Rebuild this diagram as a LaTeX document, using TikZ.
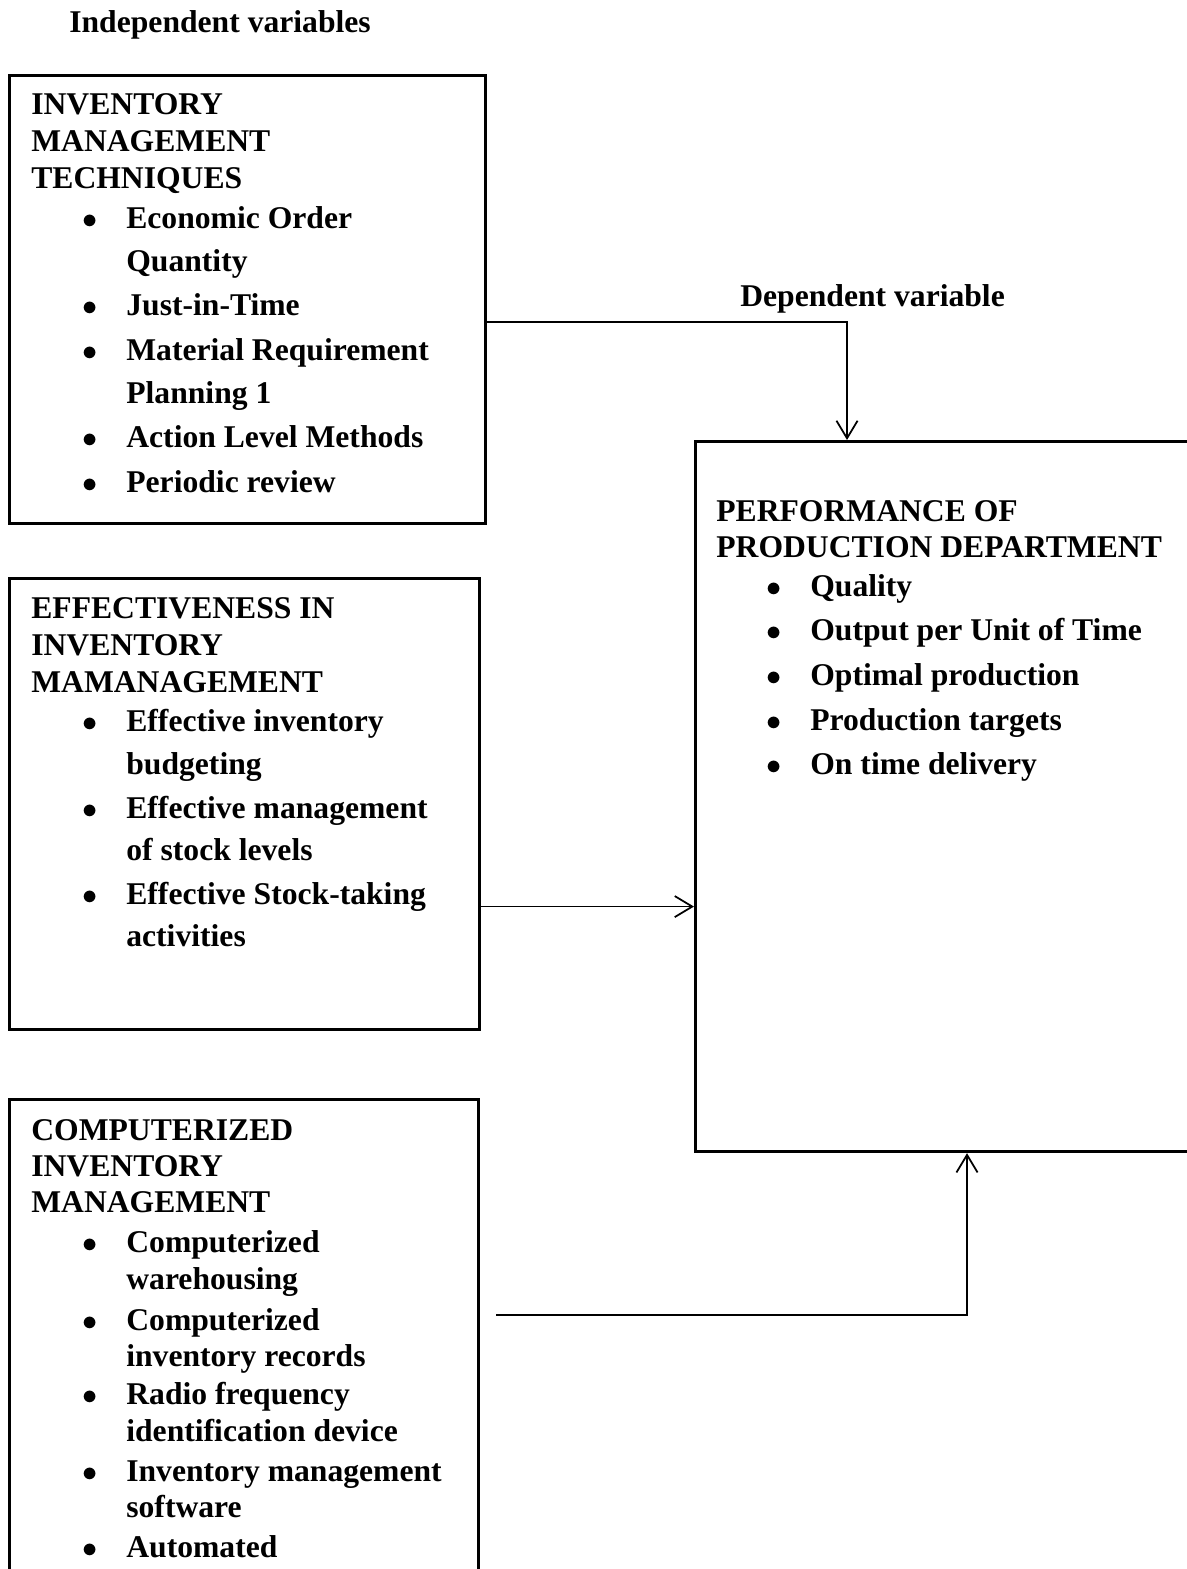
\documentclass[tikz,border=0pt]{standalone}
\usepackage{fontspec}
\setmainfont{Liberation Serif}
\usepackage{tikz}
\usetikzlibrary{arrows.meta}

\tikzset{
    box/.style={draw, line width=1.8pt, rectangle, anchor=north west, inner sep=0pt},
    txt/.style={anchor=base west, inner sep=0pt, yshift=-0.04cm, font=\fontsize{18}{21}\selectfont\bfseries},
    arr/.style={line width=1pt, -{Straight Barb[length=10pt,width=12pt,line width=1pt]}}
}
\newcommand{\bul}{\makebox[0.88cm][l]{$\bullet$}}

\begin{document}
\begin{tikzpicture}
    \useasboundingbox (0,0) rectangle (23.72,-31.38);

    % boxes
    \node[box, minimum width=9.52cm, minimum height=8.96cm] (imt) at (0.16,-1.48) {};
    \node[box, minimum width=9.40cm, minimum height=9.02cm] (eim) at (0.16,-11.54) {};
    \node[box, minimum width=9.38cm, minimum height=10.5cm] (cim) at (0.16,-21.96) {};
    \node[box, minimum width=10cm, minimum height=14.2cm] (perf) at (13.88,-8.8) {};

    % titles
    \node[txt] (indep) at (1.38,-0.62) {Independent variables};
    \node[txt] (dep) at (14.8,-6.08) {Dependent variable};

    % inventory management techniques
    \node[txt] (imt1) at (0.62,-2.26) {INVENTORY};
    \node[txt] (imt2) at (0.62,-3.00) {MANAGEMENT};
    \node[txt] (imt3) at (0.62,-3.74) {TECHNIQUES};
    \node[txt] (eoq) at (1.64,-4.54) {\bul Economic Order};
    \node[txt] (eoqb) at (2.52,-5.38) {Quantity};
    \node[txt] (jit) at (1.64,-6.26) {\bul Just-in-Time};
    \node[txt] (mrp) at (1.64,-7.16) {\bul Material Requirement};
    \node[txt] (mrpb) at (2.52,-8.02) {Planning 1};
    \node[txt] (alm) at (1.64,-8.90) {\bul Action Level Methods};
    \node[txt] (prv) at (1.64,-9.80) {\bul Periodic review};

    % effectiveness in inventory management
    \node[txt] (eim1) at (0.62,-12.32) {EFFECTIVENESS IN};
    \node[txt] (eim2) at (0.62,-13.06) {INVENTORY};
    \node[txt] (eim3) at (0.62,-13.80) {MAMANAGEMENT};
    \node[txt] (eib) at (1.64,-14.58) {\bul Effective inventory};
    \node[txt] (eibb) at (2.52,-15.44) {budgeting};
    \node[txt] (ems) at (1.64,-16.32) {\bul Effective management};
    \node[txt] (emsb) at (2.52,-17.16) {of stock levels};
    \node[txt] (est) at (1.64,-18.04) {\bul Effective Stock-taking};
    \node[txt] (estb) at (2.52,-18.88) {activities};

    % computerized inventory management
    \node[txt] (cim1) at (0.62,-22.76) {COMPUTERIZED};
    \node[txt] (cim2) at (0.62,-23.48) {INVENTORY};
    \node[txt] (cim3) at (0.62,-24.20) {MANAGEMENT};
    \node[txt] (cwh) at (1.64,-25.00) {\bul Computerized};
    \node[txt] (cwhb) at (2.52,-25.74) {warehousing};
    \node[txt] (cir) at (1.64,-26.56) {\bul Computerized};
    \node[txt] (cirb) at (2.52,-27.28) {inventory records};
    \node[txt] (rfid) at (1.64,-28.04) {\bul Radio frequency};
    \node[txt] (rfidb) at (2.52,-28.78) {identification device};
    \node[txt] (ims) at (1.64,-29.58) {\bul Inventory management};
    \node[txt] (imsb) at (2.52,-30.30) {software};
    \node[txt] (aut) at (1.64,-31.10) {\bul Automated};

    % performance of production department
    \node[txt] (perf1) at (14.32,-10.38) {PERFORMANCE OF};
    \node[txt] (perf2) at (14.32,-11.10) {PRODUCTION DEPARTMENT};
    \node[txt] (qua) at (15.32,-11.88) {\bul Quality};
    \node[txt] (out) at (15.32,-12.76) {\bul Output per Unit of Time};
    \node[txt] (opt) at (15.32,-13.66) {\bul Optimal production};
    \node[txt] (tar) at (15.32,-14.56) {\bul Production targets};
    \node[txt] (otd) at (15.32,-15.44) {\bul On time delivery};

    % connectors
    \coordinate (bend1) at (16.94,-6.44);
    \draw[arr] (imt.east |- bend1) -- (bend1) -- (bend1 |- perf.north);

    \draw[arr] ([yshift=-2.05cm]eim.east) -- ([yshift=-2.05cm]eim.east -| perf.west);

    \coordinate (bend3) at (19.34,-26.30);
    \draw[arr] ([xshift=0.32cm]cim.east |- bend3) -- (bend3) -- (bend3 |- perf.south);
\end{tikzpicture}
\end{document}
